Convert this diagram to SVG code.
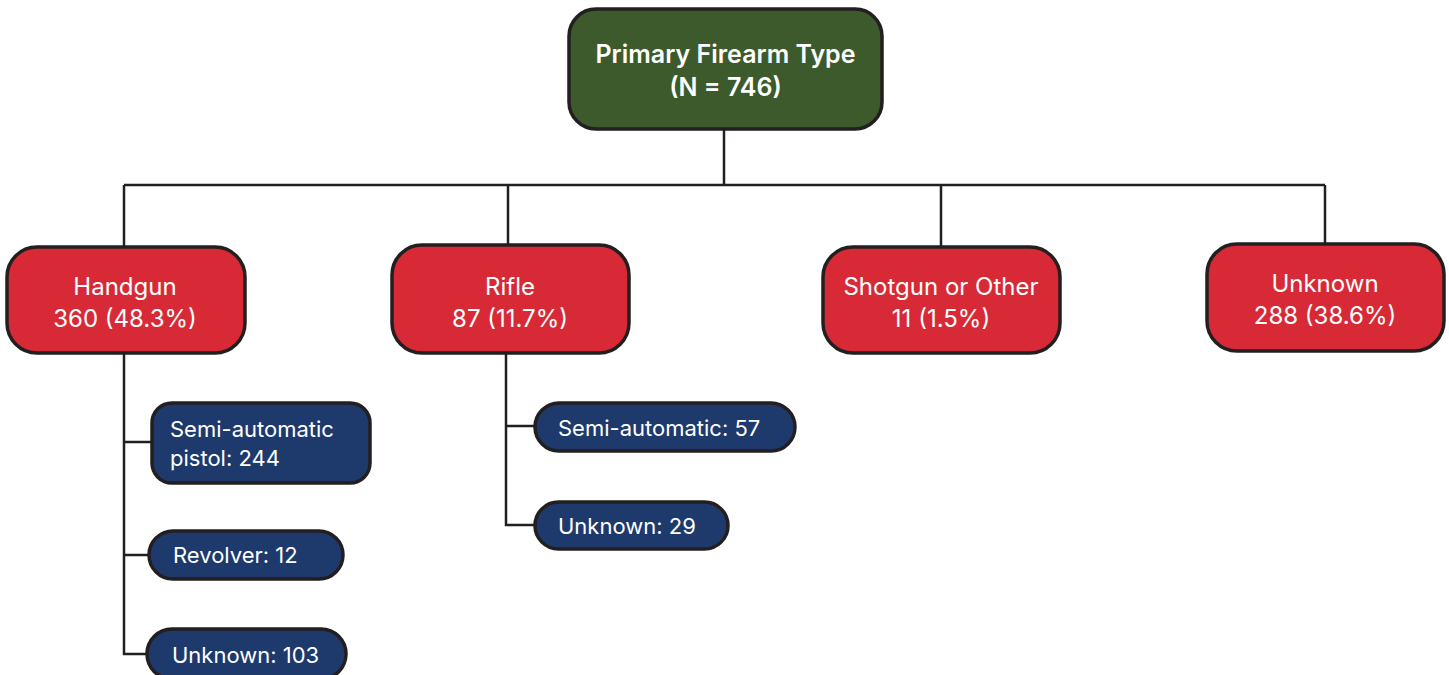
<svg xmlns="http://www.w3.org/2000/svg" width="1449" height="675" viewBox="0 0 1449 675">
<style>
.box{stroke:#231f20;stroke-width:3.5}
.root{fill:#3c5a2b}
.red{fill:#d82a36}
.blue{fill:#1e3a6c}
.t{font-family:Inter,"Liberation Sans",sans-serif;fill:#ffffff}
.tb{font-size:25px;font-weight:600}
.tm{font-size:24px;text-anchor:middle}
.ts{font-size:22px}
.conn{stroke:#231f20;stroke-width:2.5;fill:none}
</style>
<rect width="1449" height="675" fill="#ffffff"/>
<g id="connectors">
<path class="conn" d="M724 129V185M124 185H1325M124 185V247M508 185V245M941 185V247M1325 185V244"/>
<path class="conn" d="M124 353V654H148M124 442H152M124 555H150"/>
<path class="conn" d="M506 353V525H535M506 426H535"/>
</g>
<g id="root">
<rect class="box root" x="569" y="9" width="313" height="120" rx="27"/>
<text class="t tb" x="725.5" y="63" text-anchor="middle">Primary Firearm Type</text>
<text class="t tb" x="725.5" y="96" text-anchor="middle">(N = 746)</text>
</g>
<g id="handgun">
<rect class="box red" x="7" y="247" width="238" height="106" rx="30"/>
<text class="t tm" x="125" y="295">Handgun</text>
<text class="t tm" x="125" y="327">360 (48.3%)</text>
</g>
<g id="rifle">
<rect class="box red" x="392" y="245" width="237" height="108" rx="30"/>
<text class="t tm" x="510" y="295">Rifle</text>
<text class="t tm" x="510" y="327">87 (11.7%)</text>
</g>
<g id="shotgun">
<rect class="box red" x="823" y="247" width="237" height="106" rx="30"/>
<text class="t tm" x="941" y="295">Shotgun or Other</text>
<text class="t tm" x="941" y="327">11 (1.5%)</text>
</g>
<g id="unknown">
<rect class="box red" x="1207" y="244" width="237" height="107" rx="30"/>
<text class="t tm" x="1325" y="292">Unknown</text>
<text class="t tm" x="1325" y="324">288 (38.6%)</text>
</g>
<g id="semi-pistol">
<rect class="box blue" x="152" y="403" width="218" height="80" rx="20"/>
<text class="t ts" x="170" y="437">Semi-automatic</text>
<text class="t ts" x="170" y="466">pistol: 244</text>
</g>
<g id="revolver">
<rect class="box blue" x="149" y="531" width="194" height="48" rx="24"/>
<text class="t ts" x="173" y="563">Revolver: 12</text>
</g>
<g id="handgun-unknown">
<rect class="box blue" x="147" y="629" width="199" height="50" rx="25"/>
<text class="t ts" x="172" y="663">Unknown: 103</text>
</g>
<g id="semi-rifle">
<rect class="box blue" x="535" y="403" width="260" height="48" rx="24"/>
<text class="t ts" x="558" y="436">Semi-automatic: 57</text>
</g>
<g id="rifle-unknown">
<rect class="box blue" x="535" y="502" width="193" height="47" rx="23.5"/>
<text class="t ts" x="558" y="534">Unknown: 29</text>
</g>
</svg>
